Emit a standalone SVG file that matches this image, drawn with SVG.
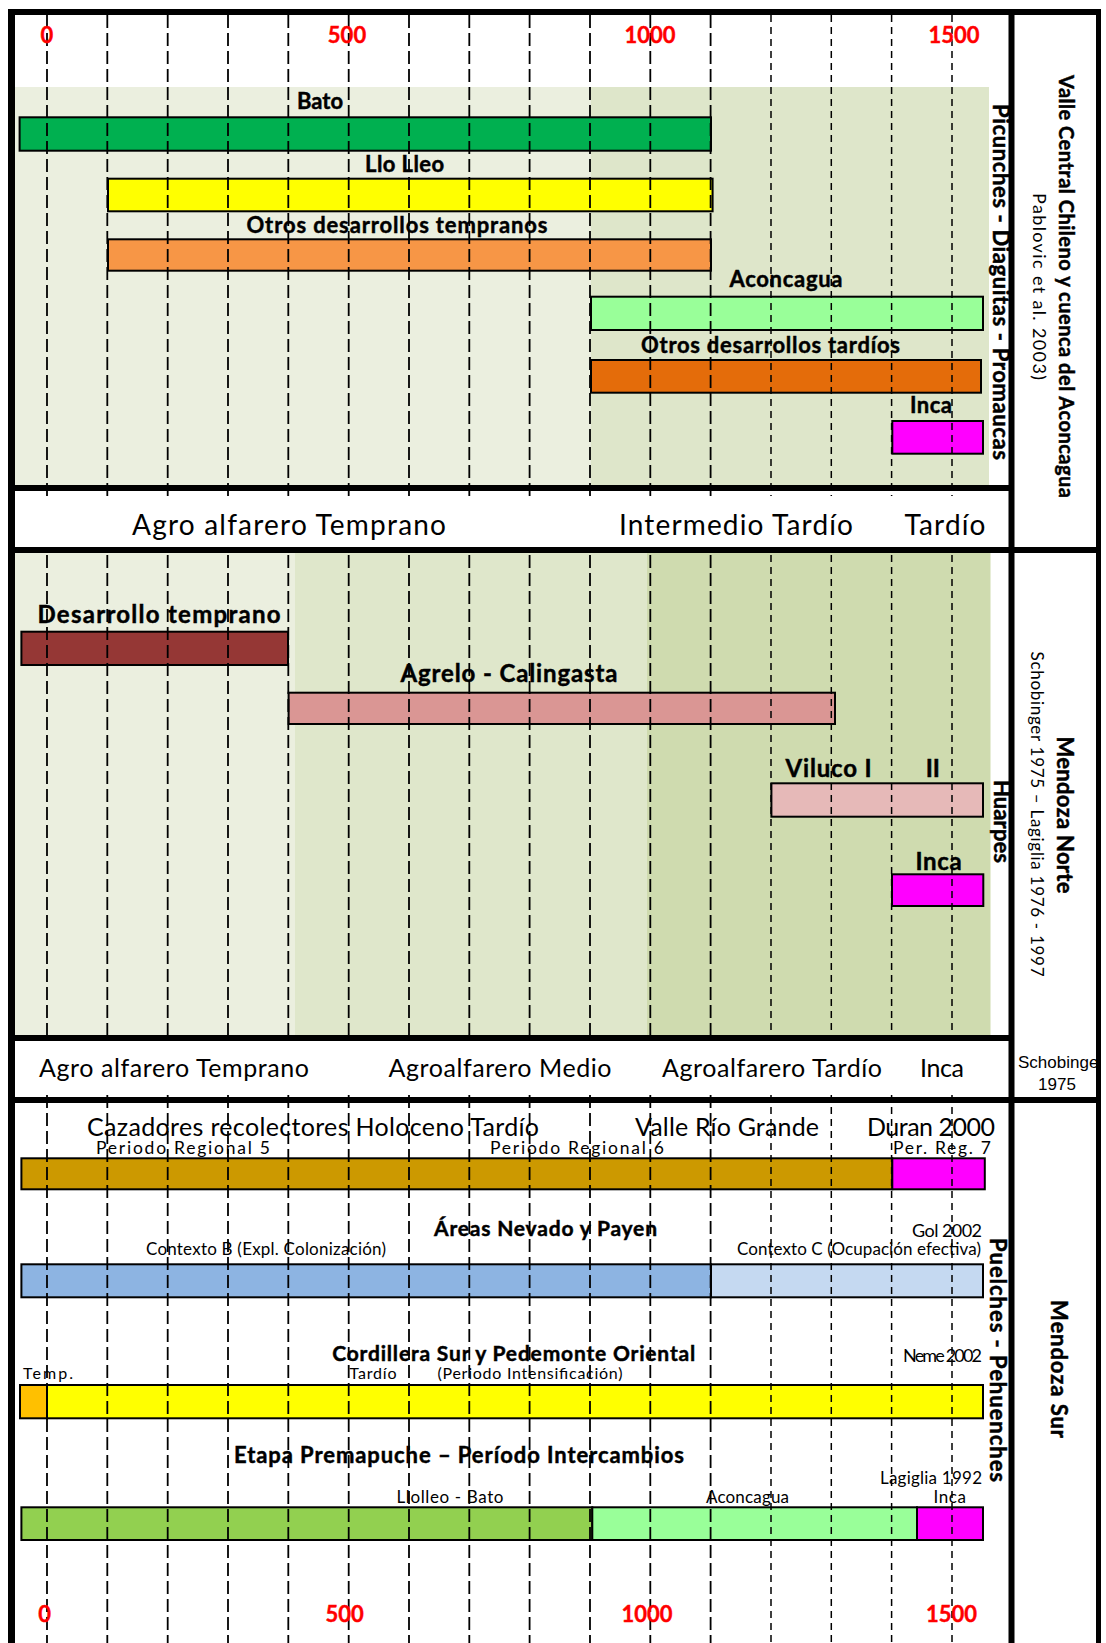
<svg xmlns="http://www.w3.org/2000/svg" width="1106" height="1643" viewBox="0 0 1106 1643">
<defs>
<style>
.t{font-family:Lato,"Liberation Sans",sans-serif;fill:#000}
.b{font-weight:bold;stroke:#000;stroke-width:0.45}
.m{text-anchor:middle}
.e{text-anchor:end}
.yr{font-family:Lato,"Liberation Sans",sans-serif;font-weight:bold;font-size:22px;fill:#FF0000;stroke:#FF0000;stroke-width:0.4;text-anchor:middle}
.dl{stroke:#000;stroke-width:1.8;stroke-dasharray:13 5;fill:none}
.ds{stroke:#000;stroke-width:1.5;stroke-dasharray:7 5;fill:none}
.bar{stroke:#000;stroke-width:2}
.fl{stroke:#000;fill:none}
.l1{font-size:22px}
.l2{font-size:24px}
.p1{font-size:28px}
.p2{font-size:25px}
.s{font-size:17px}
</style>
<clipPath id="colclip"><rect x="1015" y="1041" width="81" height="56"/></clipPath>
</defs>
<rect width="1106" height="1643" fill="#FFFFFF"/>

<g id="backgrounds">
<rect x="15" y="87" width="576" height="398" fill="#EBEFDF"/>
<rect x="591" y="87" width="398" height="398" fill="#DEE6CA"/>
<rect x="15" y="553" width="280" height="482" fill="#EBEFDF"/>
<rect x="295" y="553" width="352" height="482" fill="#DFE7CB"/>
<rect x="647" y="553" width="343.5" height="482" fill="#CFDBAF"/>
</g>

<g id="bars-valle-central">
<g id="bato"><rect class="bar" x="19.6" y="117.3" width="691.4" height="33.4" fill="#00B050"/></g>
<g id="llolleo"><rect class="bar" x="108" y="178.7" width="604.6" height="32.6" fill="#FFFF00"/></g>
<g id="otros-tempranos"><rect class="bar" x="108" y="239.3" width="603" height="31.4" fill="#F79646"/></g>
<g id="aconcagua"><rect class="bar" x="591" y="296.7" width="392" height="33.3" fill="#99FF99"/></g>
<g id="otros-tardios"><rect class="bar" x="591" y="360" width="390" height="32.7" fill="#E46C0A"/></g>
<g id="inca-vc"><rect class="bar" x="892.3" y="421" width="90.7" height="32.7" fill="#FF00FF"/></g>
</g>

<g id="bars-mendoza-norte">
<g id="desarrollo-temprano"><rect class="bar" x="21.4" y="631.7" width="266.6" height="33.3" fill="#953735"/></g>
<g id="agrelo-calingasta"><rect class="bar" x="288.6" y="692.7" width="546.4" height="31.3" fill="#DA9694"/></g>
<g id="viluco"><rect class="bar" x="771.4" y="783.3" width="211.6" height="33.4" fill="#E6B9B8"/></g>
<g id="inca-mn"><rect class="bar" x="892" y="874.3" width="91.3" height="31.7" fill="#FF00FF"/></g>
</g>

<g id="bars-mendoza-sur">
<g id="row-valle-rio-grande">
<rect class="bar" x="21.4" y="1158.3" width="870.9" height="31" fill="#CC9900"/>
<rect class="bar" x="892.3" y="1158.3" width="92.5" height="31" fill="#FF00FF"/>
</g>
<g id="row-nevado-payen">
<rect class="bar" x="21.4" y="1264.3" width="689.6" height="33" fill="#8DB4E2"/>
<rect class="bar" x="711" y="1264.3" width="272" height="33" fill="#C5D9F1"/>
</g>
<g id="row-cordillera-sur">
<rect class="bar" x="20" y="1385" width="27" height="33.3" fill="#FFC000"/>
<rect class="bar" x="47" y="1385" width="936" height="33.3" fill="#FFFF00"/>
</g>
<g id="row-premapuche">
<rect class="bar" x="21.4" y="1507.3" width="570.9" height="32.7" fill="#92D050"/>
<rect class="bar" x="592.3" y="1507.3" width="324.7" height="32.7" fill="#99FF99"/>
<rect class="bar" x="917" y="1507.3" width="66" height="32.7" fill="#FF00FF"/>
</g>
</g>

<g id="connectors">
<path class="dl" d="M47 15V1643M107.3 15V1643M167.7 15V1643M228 15V1643M288.3 15V1643M348.7 15V1643M409 15V1643M469.3 15V1643M529.6 15V1643M590 15V1643M650.3 15V1643M710.6 15V1643"/>
<path class="ds" d="M771 15V1643M831.3 15V1643M891.6 15V1643M952 15V1643"/>
</g>

<g id="period-bands">
<rect x="15" y="496" width="993" height="51" fill="#FFFFFF"/>
<rect x="15" y="1041" width="993" height="51" fill="#FFFFFF"/>
</g>

<g id="frame">
<path class="fl" stroke-width="7" d="M11.5 9V1643"/>
<path class="fl" stroke-width="6" d="M8 12H1101"/>
<path class="fl" stroke-width="5" d="M1098.5 9V1643"/>
<path class="fl" stroke-width="6" d="M1011.5 9V1643"/>
<path class="fl" stroke-width="6" d="M11 488H1011"/>
<path class="fl" stroke-width="6" d="M11 550H1099"/>
<path class="fl" stroke-width="6" d="M11 1038H1011"/>
<path class="fl" stroke-width="6" d="M11 1100H1099"/>
</g>

<g id="year-labels">
<text class="yr" x="47" y="43">0</text>
<text class="yr" x="347" y="43">500</text>
<text class="yr" x="650" y="43">1000</text>
<text class="yr" x="954" y="43">1500</text>
<text class="yr" x="44.6" y="1621.7">0</text>
<text class="yr" x="344.6" y="1621.7">500</text>
<text class="yr" x="647" y="1621.7">1000</text>
<text class="yr" x="951.6" y="1621.7">1500</text>
</g>

<g id="labels-valle-central">
<text class="t b m l1" x="320" y="109.3">Bato</text>
<text class="t b m l1" x="404.6" y="171.7" textLength="79">Llo Lleo</text>
<text class="t b m l1" x="397" y="232.7" textLength="301">Otros desarrollos tempranos</text>
<text class="t b m l1" x="786" y="287.3" textLength="113">Aconcagua</text>
<text class="t b m l1" x="770.5" y="353.3" textLength="259">Otros desarrollos tardíos</text>
<text class="t b m l1" x="931" y="413.3" textLength="42">Inca</text>
<text class="t b m l1" transform="translate(993 282) rotate(90)" textLength="356">Picunches - Diaguitas - Promaucas</text>
<text class="t m p1" x="289" y="535" textLength="314">Agro alfarero Temprano</text>
<text class="t m p1" x="736" y="535" textLength="234">Intermedio Tardío</text>
<text class="t m p1" x="945" y="535" textLength="81">Tardío</text>
</g>

<g id="labels-mendoza-norte">
<text class="t b m l2" x="159" y="623.3" textLength="243">Desarrollo temprano</text>
<text class="t b m l2" x="509" y="681.7" textLength="217">Agrelo - Calingasta</text>
<text class="t b m l2" x="828.5" y="776.7" textLength="86">Viluco I</text>
<text class="t b m l2" x="932.8" y="776.7">II</text>
<text class="t b m l2" x="938.6" y="870" textLength="46">Inca</text>
<text class="t b m l1" transform="translate(994 821.5) rotate(90)" textLength="83">Huarpes</text>
<text class="t m p2" x="174" y="1077" textLength="270">Agro alfarero Temprano</text>
<text class="t m p2" x="500" y="1077" textLength="223">Agroalfarero Medio</text>
<text class="t m p2" x="772" y="1077" textLength="220">Agroalfarero Tardío</text>
<text class="t m p2" x="942" y="1077" textLength="44">Inca</text>
</g>

<g id="labels-mendoza-sur">
<text class="t m p2" x="313" y="1135.5" textLength="452">Cazadores recolectores Holoceno Tardío</text>
<text class="t m p2" x="727" y="1135.5" textLength="184">Valle Río Grande</text>
<text class="t m p2" x="931" y="1135.5" textLength="128">Duran 2000</text>
<text class="t m" font-size="17.5" x="183" y="1153.5" textLength="174">Periodo Regional 5</text>
<text class="t m" font-size="17.5" x="577" y="1153.5" textLength="174">Periodo Regional 6</text>
<text class="t m" font-size="17.5" x="942" y="1153.5" textLength="98">Per. Reg. 7</text>
<text class="t b m" font-size="21" x="545.5" y="1236" textLength="223">Áreas Nevado y Payen</text>
<text class="t e" font-size="18" x="982" y="1236.7" textLength="70">Gol 2002</text>
<text class="t m s" x="266" y="1255" textLength="240">Contexto B (Expl. Colonización)</text>
<text class="t m s" x="859" y="1255" textLength="244">Contexto C (Ocupación efectiva)</text>
<text class="t b m" font-size="21" x="513.7" y="1361" textLength="363">Cordillera Sur y Pedemonte Oriental</text>
<text class="t e" font-size="18" x="982" y="1361.7" textLength="79">Neme 2002</text>
<text class="t" font-size="16" x="23" y="1378.5" textLength="50">Temp.</text>
<text class="t m" font-size="16" x="373" y="1378.5" textLength="47">Tardío</text>
<text class="t m" font-size="16" x="530" y="1378.5" textLength="185">(Periodo Intensificación)</text>
<text class="t b m" font-size="22" x="459" y="1462.7" textLength="450">Etapa Premapuche – Período Intercambios</text>
<text class="t e s" x="982" y="1484" textLength="102">Lagiglia 1992</text>
<text class="t m s" x="450" y="1502.7" textLength="107">Llolleo - Bato</text>
<text class="t m s" x="747.5" y="1502.7" textLength="83">Aconcagua</text>
<text class="t m s" x="949.7" y="1502.7" textLength="32.5">Inca</text>
<text class="t b m l1" transform="translate(990 1360) rotate(90)" textLength="244">Puelches - Pehuenches</text>
</g>

<g id="region-labels">
<text class="t b m" font-size="20" transform="translate(1059 286.5) rotate(90)" textLength="423">Valle Central Chileno y cuenca del Aconcagua</text>
<text class="t m" font-size="18" transform="translate(1033 286.5) rotate(90)" textLength="187">Pablovic et al. 2003)</text>
<text class="t b m l1" transform="translate(1057 815) rotate(90)" textLength="157">Mendoza Norte</text>
<text class="t m" font-size="17" transform="translate(1031 814) rotate(90)" textLength="325">Schobinger 1975 – Lagiglia 1976 - 1997</text>
<g clip-path="url(#colclip)">
<text style="font-family:'Liberation Sans Narrow','Liberation Sans',sans-serif" font-size="17" x="1018" y="1068">Schobinger</text>
</g>
<text class="m" style="font-family:'Liberation Sans Narrow','Liberation Sans',sans-serif" font-size="17" x="1057" y="1090">1975</text>
<text class="t b m" font-size="22" transform="translate(1051 1369) rotate(90)" textLength="138">Mendoza Sur</text>
</g>
</svg>
